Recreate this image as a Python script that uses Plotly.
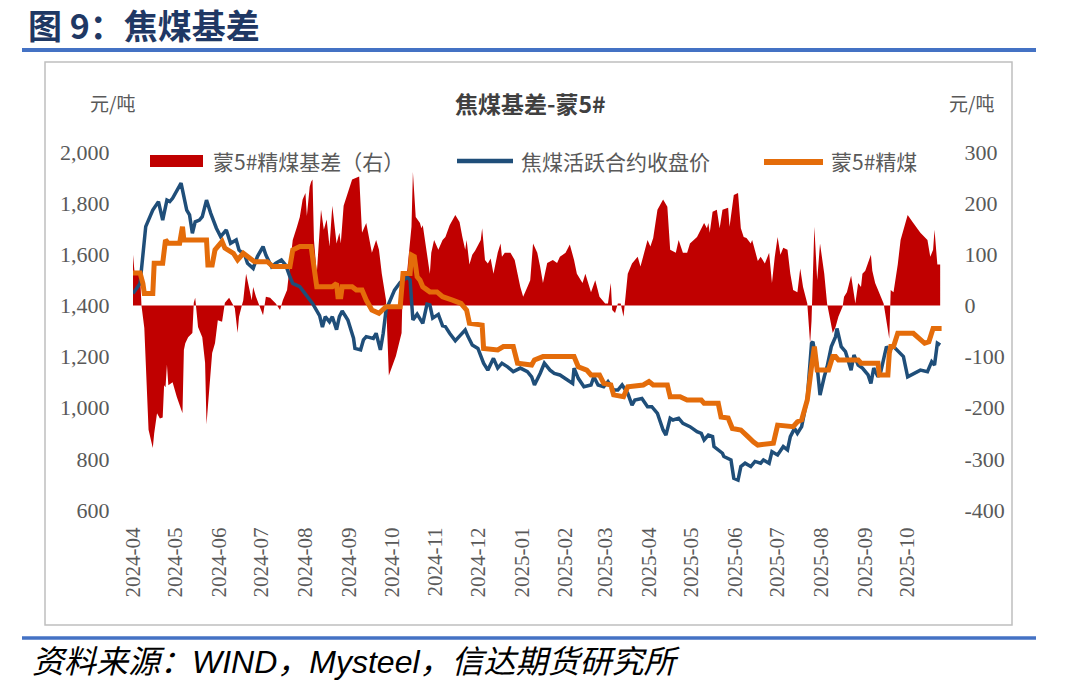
import plotly.graph_objects as go

# ---------------- data ----------------
# 焦煤活跃合约收盘价 (left axis, 元/吨)
b_dates = ["2024-04-01","2024-04-06","2024-04-10","2024-04-15","2024-04-19","2024-04-22","2024-04-25","2024-04-27","2024-04-29",
           "2024-05-05","2024-05-09","2024-05-11","2024-05-13","2024-05-15","2024-05-18","2024-05-20","2024-05-23","2024-05-26","2024-05-30",
           "2024-06-02","2024-06-06","2024-06-09","2024-06-13","2024-06-15","2024-06-19","2024-06-21","2024-06-25","2024-06-28",
           "2024-07-02","2024-07-04","2024-07-08","2024-07-11","2024-07-15","2024-07-18","2024-07-21","2024-07-23","2024-07-28",
           "2024-08-02","2024-08-06","2024-08-11","2024-08-13","2024-08-15","2024-08-18","2024-08-20","2024-08-23","2024-08-25","2024-08-27","2024-08-31",
           "2024-09-04","2024-09-05","2024-09-09","2024-09-11","2024-09-13","2024-09-18","2024-09-20","2024-09-23","2024-09-25","2024-09-27","2024-09-30",
           "2024-10-03","2024-10-07","2024-10-12","2024-10-14","2024-10-16","2024-10-19","2024-10-23","2024-10-26","2024-10-28","2024-10-30",
           "2024-11-03","2024-11-06","2024-11-08","2024-11-11","2024-11-15","2024-11-18","2024-11-22","2024-11-24","2024-11-27",
           "2024-12-01","2024-12-05","2024-12-08","2024-12-12","2024-12-15","2024-12-18","2024-12-22","2024-12-26","2024-12-31",
           "2025-01-05","2025-01-08","2025-01-10","2025-01-14","2025-01-17","2025-01-21","2025-01-24","2025-01-28",
           "2025-02-02","2025-02-06","2025-02-07","2025-02-10","2025-02-14","2025-02-19","2025-02-21","2025-02-24","2025-02-28",
           "2025-03-03","2025-03-07","2025-03-10","2025-03-13","2025-03-17","2025-03-20","2025-03-22","2025-03-27","2025-03-31",
           "2025-04-03","2025-04-07","2025-04-11","2025-04-13","2025-04-16","2025-04-18","2025-04-22","2025-04-25","2025-04-30",
           "2025-05-05","2025-05-08","2025-05-10","2025-05-13","2025-05-16","2025-05-17","2025-05-23","2025-05-24","2025-05-29","2025-05-31",
           "2025-06-03","2025-06-05","2025-06-08","2025-06-12","2025-06-15","2025-06-19","2025-06-21","2025-06-25","2025-06-27",
           "2025-07-01","2025-07-03","2025-07-05","2025-07-08","2025-07-10","2025-07-13","2025-07-15","2025-07-18","2025-07-20","2025-07-22",
           "2025-07-25","2025-07-26","2025-07-29","2025-07-31",
           "2025-08-03","2025-08-05","2025-08-08","2025-08-11","2025-08-12","2025-08-15","2025-08-18","2025-08-22","2025-08-24","2025-08-27","2025-08-30",
           "2025-09-03","2025-09-05","2025-09-07","2025-09-10","2025-09-12","2025-09-16","2025-09-18","2025-09-21","2025-09-25","2025-09-28",
           "2025-10-01","2025-10-05","2025-10-10","2025-10-15","2025-10-18","2025-10-20","2025-10-22","2025-10-24"]
b_vals = [1447,1486,1708,1773,1806,1734,1812,1806,1819,
          1878,1773,1754,1682,1727,1734,1747,1812,1760,1702,
          1669,1695,1643,1656,1617,1597,1565,1545,1591,
          1630,1597,1551,1565,1578,1558,1512,1486,1473,
          1434,1408,1360,1315,1356,1336,1356,1305,1356,1378,1343,
          1272,1232,1226,1265,1278,1271,1291,1226,1291,1382,1420,
          1460,1490,1510,1500,1343,1366,1330,1405,1402,1350,
          1365,1320,1317,1291,1262,1280,1304,1278,1245,
          1232,1174,1147,1193,1155,1174,1160,1141,1155,
          1141,1121,1089,1134,1174,1147,1134,1128,
          1108,1095,1155,1115,1082,1089,1121,1089,1082,
          1102,1069,1069,1089,1056,1010,1030,1036,1004,
          1004,978,913,893,959,952,959,939,926,
          906,900,874,893,887,848,822,809,796,724,
          717,770,783,770,790,783,796,783,828,
          815,835,848,835,887,919,900,926,991,1036,
          1252,1258,1160,1049,
          1121,1160,1239,1278,1310,1239,1219,1147,1206,1167,1155,
          1128,1095,1155,1121,1141,1239,1226,1239,1219,1200,
          1121,1134,1147,1141,1180,1167,1252,1245]

# 蒙5#精煤 (left axis, 元/吨)
o_dates = ["2024-04-01","2024-04-06","2024-04-08","2024-04-09","2024-04-15","2024-04-16","2024-04-22","2024-04-24","2024-04-26",
           "2024-05-04","2024-05-06","2024-05-07","2024-05-23","2024-05-24","2024-05-27","2024-05-29",
           "2024-06-03","2024-06-05","2024-06-11","2024-06-14","2024-06-18","2024-06-21","2024-06-26",
           "2024-07-05","2024-07-07","2024-07-09","2024-07-21","2024-07-23","2024-07-28",
           "2024-08-05","2024-08-09","2024-08-20","2024-08-23","2024-08-24","2024-08-26","2024-08-27",
           "2024-09-03","2024-09-06","2024-09-10","2024-09-13","2024-09-17","2024-09-22","2024-09-27",
           "2024-10-07","2024-10-09","2024-10-14","2024-10-15","2024-10-17","2024-10-19","2024-10-21","2024-10-23","2024-10-28",
           "2024-11-02","2024-11-06","2024-11-13","2024-11-19","2024-11-23","2024-11-25",
           "2024-12-04","2024-12-05","2024-12-15","2024-12-19","2024-12-26","2024-12-29",
           "2025-01-08","2025-01-10","2025-01-16",
           "2025-02-07","2025-02-10","2025-02-16","2025-02-19","2025-02-25","2025-02-28",
           "2025-03-05","2025-03-07","2025-03-14","2025-03-17","2025-03-28",
           "2025-04-01","2025-04-04","2025-04-14","2025-04-16","2025-04-23","2025-04-28",
           "2025-05-08","2025-05-10","2025-05-20","2025-05-22","2025-05-27","2025-05-30",
           "2025-06-05","2025-06-08","2025-06-10","2025-06-14","2025-06-17","2025-06-28",
           "2025-07-01","2025-07-12","2025-07-15","2025-07-18","2025-07-20","2025-07-22","2025-07-25","2025-07-27","2025-07-29",
           "2025-08-06","2025-08-09","2025-08-11","2025-08-13","2025-08-27","2025-08-29",
           "2025-09-10","2025-09-11","2025-09-17","2025-09-18","2025-09-19","2025-09-21","2025-09-23","2025-09-24",
           "2025-10-05","2025-10-08","2025-10-13","2025-10-16","2025-10-18","2025-10-19","2025-10-25"]
o_vals = [1527,1527,1486,1447,1447,1565,1565,1656,1643,
          1643,1708,1656,1656,1558,1558,1617,
          1650,1624,1604,1578,1604,1591,1571,
          1571,1558,1552,1552,1617,1630,
          1630,1473,1473,1486,1434,1434,1473,
          1473,1460,1460,1421,1382,1369,1395,
          1395,1525,1525,1597,1591,1512,1499,1473,1453,
          1453,1434,1421,1408,1382,1330,
          1323,1232,1226,1239,1239,1174,
          1167,1187,1200,
          1200,1160,1147,1128,1128,1095,
          1089,1050,1043,1082,1089,
          1102,1089,1089,1043,1043,1030,
          1030,1017,1017,964,960,919,
          913,893,887,866,854,861,
          932,926,945,952,991,1030,1160,1239,1147,
          1147,1200,1200,1187,1187,1174,
          1174,1128,1128,1213,1239,1239,1278,1291,
          1291,1278,1252,1258,1297,1310,1310]

# 蒙5#精煤基差 (right axis, 元/吨)
r_dates = ["2024-04-01","2024-04-02","2024-04-06","2024-04-07","2024-04-09","2024-04-12","2024-04-15","2024-04-16","2024-04-18","2024-04-20",
           "2024-04-22","2024-04-23","2024-04-24","2024-04-25","2024-04-26","2024-04-29",
           "2024-05-02","2024-05-06","2024-05-07","2024-05-08","2024-05-10","2024-05-13","2024-05-14","2024-05-15","2024-05-17","2024-05-20",
           "2024-05-22","2024-05-23","2024-05-24","2024-05-27","2024-05-29","2024-05-31",
           "2024-06-03","2024-06-05","2024-06-08","2024-06-11","2024-06-12","2024-06-14","2024-06-15","2024-06-17","2024-06-18","2024-06-20",
           "2024-06-21","2024-06-24","2024-06-25","2024-06-27",
           "2024-07-02","2024-07-04","2024-07-07","2024-07-11","2024-07-14","2024-07-16","2024-07-19","2024-07-21","2024-07-23","2024-07-26",
           "2024-07-28","2024-07-30",
           "2024-08-01","2024-08-02","2024-08-04","2024-08-05","2024-08-06","2024-08-07","2024-08-09","2024-08-12","2024-08-14","2024-08-16",
           "2024-08-18","2024-08-20","2024-08-23","2024-08-25","2024-08-26","2024-08-28",
           "2024-09-01","2024-09-03","2024-09-08","2024-09-10","2024-09-13","2024-09-17","2024-09-20","2024-09-22","2024-09-24","2024-09-27","2024-09-29",
           "2024-10-04","2024-10-08","2024-10-09","2024-10-12","2024-10-15","2024-10-16","2024-10-18","2024-10-21","2024-10-22","2024-10-23",
           "2024-10-25","2024-10-28","2024-10-29","2024-10-31",
           "2024-11-03","2024-11-06","2024-11-08","2024-11-11","2024-11-15","2024-11-18","2024-11-20","2024-11-22","2024-11-23","2024-11-25",
           "2024-11-27","2024-11-29",
           "2024-12-03","2024-12-04","2024-12-06","2024-12-08","2024-12-10","2024-12-12","2024-12-15","2024-12-17","2024-12-18","2024-12-20",
           "2024-12-24","2024-12-27","2024-12-31",
           "2025-01-02","2025-01-05","2025-01-07","2025-01-09","2025-01-12","2025-01-14","2025-01-16","2025-01-19","2025-01-23","2025-01-26","2025-01-28",
           "2025-02-01","2025-02-04","2025-02-07","2025-02-09","2025-02-13","2025-02-15","2025-02-19","2025-02-22","2025-02-25",
           "2025-03-01","2025-03-03","2025-03-05","2025-03-06","2025-03-08","2025-03-10","2025-03-12","2025-03-14","2025-03-15","2025-03-17",
           "2025-03-20","2025-03-24","2025-03-26","2025-03-28","2025-03-31",
           "2025-04-02","2025-04-04","2025-04-07","2025-04-11","2025-04-14","2025-04-16","2025-04-20","2025-04-22","2025-04-25","2025-04-28","2025-04-30",
           "2025-05-05","2025-05-10","2025-05-12","2025-05-13","2025-05-14","2025-05-16","2025-05-19","2025-05-21","2025-05-23","2025-05-27","2025-05-28","2025-05-31",
           "2025-06-03","2025-06-05","2025-06-07","2025-06-09","2025-06-12","2025-06-13","2025-06-17","2025-06-19","2025-06-22","2025-06-25","2025-06-27","2025-06-29",
           "2025-07-01","2025-07-03","2025-07-05","2025-07-08","2025-07-10","2025-07-12","2025-07-15","2025-07-17","2025-07-19","2025-07-22","2025-07-24",
           "2025-07-25","2025-07-27","2025-07-29","2025-07-31",
           "2025-08-03","2025-08-05","2025-08-09","2025-08-11","2025-08-13","2025-08-16","2025-08-17","2025-08-19","2025-08-22","2025-08-24","2025-08-25",
           "2025-08-27","2025-08-29","2025-08-30",
           "2025-09-01","2025-09-05","2025-09-06","2025-09-08","2025-09-12","2025-09-14","2025-09-18","2025-09-19","2025-09-21","2025-09-24","2025-09-26",
           "2025-10-01","2025-10-05","2025-10-10","2025-10-15","2025-10-17","2025-10-19","2025-10-20","2025-10-22","2025-10-24"]
r_vals = [99,68,60,0,-44,-243,-279,-250,-211,-221,
          -219,-156,-160,-116,-156,-150,
          -179,-211,-87,-74,-62,-54,5,15,-42,-62,
          -112,-233,-197,-93,-74,-29,
          -32,5,15,0,-5,-54,-22,0,10,62,
          49,10,36,17,
          -19,17,15,4,-9,10,30,75,128,154,
          173,207,
          220,175,232,242,246,128,62,187,148,168,
          115,195,121,142,121,195,
          228,246,252,142,161,103,128,109,62,10,-137,
          -99,-54,62,68,154,261,173,161,151,157,
          121,62,103,128,
          109,128,134,157,177,163,134,109,128,80,
          99,107,
          128,151,89,82,92,62,103,121,95,103,
          103,89,36,
          17,36,49,121,103,76,44,83,89,83,95,
          103,119,89,62,44,62,26,49,17,
          4,4,44,-9,-15,4,4,-22,4,62,
          82,95,76,95,128,
          115,132,187,207,193,109,103,128,103,103,121,
          134,161,151,161,142,183,187,151,187,191,154,216,
          220,151,134,132,121,128,87,95,82,103,44,95,
          134,99,113,109,62,30,26,72,36,4,-75,
          -30,154,49,121,
          62,4,-54,-42,-22,-2,17,26,58,26,4,
          44,36,62,
          68,99,68,44,17,4,-65,30,26,80,128,
          177,161,142,128,95,109,148,80,80]

left_ticks = [600, 800, 1000, 1200, 1400, 1600, 1800, 2000]
left_labels = ["600", "800", "1,000", "1,200", "1,400", "1,600", "1,800", "2,000"]
right_ticks = [-400, -300, -200, -100, 0, 100, 200, 300]
right_labels = ["-400", "-300", "-200", "-100", "0", "100", "200", "300"]

# ---------------- layout helpers ----------------
W, H = 1086, 695
PL, PR, PT, PB = 133, 943, 152, 510


def px(x):
    return (x - PL) / (PR - PL)


def py(y):
    return (PB - y) / (PB - PT)


RED = "#C00000"
BLUE = "#1F4E79"
ORANGE = "#E46C0A"
GREY = "#595959"
CJK = "Noto Sans CJK SC"
SERIF = "Liberation Serif, Times New Roman, serif"

fig = go.Figure()
fig.add_trace(go.Scatter(x=r_dates, y=r_vals, yaxis="y", mode="lines", fill="tozeroy",
                         fillcolor=RED, line=dict(width=0, color=RED), name="蒙5#精煤基差（右）"))
fig.add_trace(go.Scatter(x=b_dates, y=b_vals, yaxis="y2", mode="lines",
                         line=dict(color=BLUE, width=3.5), name="焦煤活跃合约收盘价"))
fig.add_trace(go.Scatter(x=o_dates, y=o_vals, yaxis="y2", mode="lines",
                         line=dict(color=ORANGE, width=5), name="蒙5#精煤"))

fig.update_layout(
    width=W, height=H,
    margin=dict(l=PL, r=W - PR, t=PT, b=H - PB, pad=0),
    paper_bgcolor="white", plot_bgcolor="white",
    showlegend=False,
    xaxis=dict(type="date", range=["2024-04-01", "2025-10-26"], tickformat="%Y-%m",
               dtick="M1", tick0="2024-04-01", tickangle=-90, showgrid=False, zeroline=False,
               showline=False, ticks="outside", ticklen=8, tickcolor="rgba(0,0,0,0)",
               tickfont=dict(family=SERIF, size=21, color=GREY)),
    yaxis=dict(side="right", range=[-400, 300], tickvals=right_ticks, ticktext=right_labels,
               showgrid=False, zeroline=False, showline=False, ticks="outside", ticklen=16,
               tickcolor="rgba(0,0,0,0)", tickfont=dict(family=SERIF, size=22, color=GREY)),
    yaxis2=dict(side="left", overlaying="y", range=[600, 2000], tickvals=left_ticks,
                ticktext=left_labels, showgrid=False, zeroline=False, showline=False,
                ticks="outside", ticklen=18, tickcolor="rgba(0,0,0,0)",
                tickfont=dict(family=SERIF, size=22, color=GREY)),
)

shapes = [
    # top blue rule
    dict(type="line", xref="paper", yref="paper", x0=px(22), x1=px(1036), y0=py(50), y1=py(50),
         line=dict(color="#4472C4", width=4)),
    # chart frame
    dict(type="rect", xref="paper", yref="paper", x0=px(45), x1=px(1012), y0=py(62), y1=py(625),
         line=dict(color="#BFBFBF", width=1.5), fillcolor="rgba(0,0,0,0)", layer="below"),
    # bottom blue rule
    dict(type="line", xref="paper", yref="paper", x0=px(22), x1=px(1036), y0=py(638), y1=py(638),
         line=dict(color="#4472C4", width=3.5)),
    # legend symbols
    dict(type="rect", xref="paper", yref="paper", x0=px(150), x1=px(203), y0=py(167), y1=py(155),
         line=dict(width=0), fillcolor=RED),
    dict(type="line", xref="paper", yref="paper", x0=px(457), x1=px(513), y0=py(161), y1=py(161),
         line=dict(color=BLUE, width=4.5)),
    dict(type="line", xref="paper", yref="paper", x0=px(764), x1=px(823), y0=py(162), y1=py(162),
         line=dict(color=ORANGE, width=6)),
]
fig.update_layout(shapes=shapes)

ann = [
    dict(text="<b>图 9：焦煤基差</b>", x=px(26), y=py(25), xanchor="left", yanchor="middle",
         font=dict(family=CJK, size=34, color="#1F3864")),
    dict(text="<b>焦煤基差-蒙5#</b>", x=px(530), y=py(103), xanchor="center", yanchor="middle",
         font=dict(family=CJK, size=23, color="#404040")),
    dict(text="元/吨", x=px(112), y=py(103), xanchor="center", yanchor="middle",
         font=dict(family=CJK, size=19, color=GREY)),
    dict(text="元/吨", x=px(971), y=py(103), xanchor="center", yanchor="middle",
         font=dict(family=CJK, size=19, color=GREY)),
    dict(text="蒙5#精煤基差（右）", x=px(211), y=py(161), xanchor="left", yanchor="middle",
         font=dict(family=CJK, size=21, color=GREY)),
    dict(text="焦煤活跃合约收盘价", x=px(519), y=py(161), xanchor="left", yanchor="middle",
         font=dict(family=CJK, size=21, color=GREY)),
    dict(text="蒙5#精煤", x=px(829), y=py(161), xanchor="left", yanchor="middle",
         font=dict(family=CJK, size=21, color=GREY)),
    dict(text="<i>资料来源：WIND，Mysteel，信达期货研究所</i>", x=px(30), y=py(662),
         xanchor="left", yanchor="middle",
         font=dict(family="Liberation Sans, " + CJK, size=32, color="black")),
]
for a in ann:
    a.update(xref="paper", yref="paper", showarrow=False)
fig.update_layout(annotations=ann)

fig.write_html("out.html")
